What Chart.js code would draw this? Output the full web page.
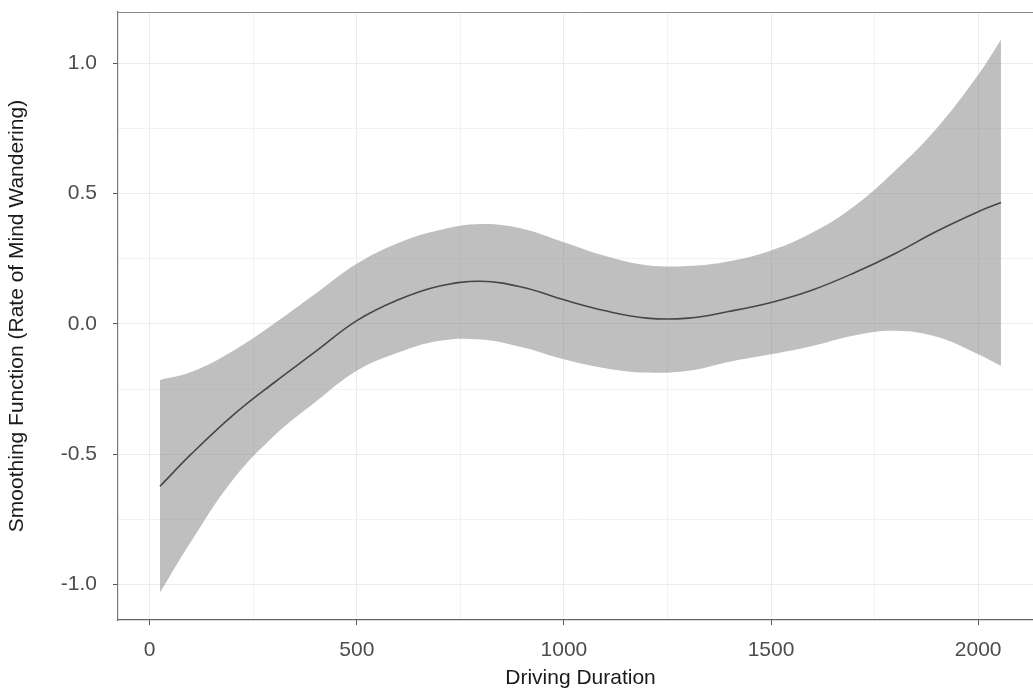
<!DOCTYPE html>
<html>
<head>
<meta charset="utf-8">
<script src="https://cdn.jsdelivr.net/npm/chart.js@4.4.1/dist/chart.umd.min.js"></script>
<style>
    html, body { margin: 0; padding: 0; background: #fff; overflow: hidden; }
    #wrap { width: 1043px; height: 700px; }
</style>
</head>
<body>
<div id="wrap"><canvas id="chart" width="1043" height="700"></canvas></div>
<script>
const durations = [25, 100, 200, 300, 400, 500, 600, 700, 800, 900, 1000, 1100, 1200, 1300, 1400, 1500, 1600, 1700, 1800, 1900, 2000, 2055];
// fitted smooth
const fit = [-0.623, -0.5, -0.352, -0.226, -0.107, 0.012, 0.092, 0.145, 0.163, 0.14, 0.092, 0.05, 0.022, 0.022, 0.048, 0.082, 0.13, 0.195, 0.27, 0.355, 0.43, 0.465];
// confidence band
const upper = [-0.215, -0.185, -0.105, 0.0, 0.115, 0.23, 0.31, 0.36, 0.383, 0.365, 0.313, 0.26, 0.225, 0.222, 0.24, 0.281, 0.35, 0.45, 0.588, 0.75, 0.955, 1.09];
const lower = [-1.03, -0.835, -0.6, -0.43, -0.3, -0.18, -0.11, -0.065, -0.06, -0.09, -0.136, -0.17, -0.187, -0.18, -0.145, -0.117, -0.085, -0.045, -0.027, -0.05, -0.117, -0.162];

// grid positions (major ones get a label)
const xGrid = [0, 250, 500, 750, 1000, 1250, 1500, 1750, 2000];
const yGrid = [-1.0, -0.75, -0.5, -0.25, 0.0, 0.25, 0.5, 0.75, 1.0];
const xMajor = [0, 500, 1000, 1500, 2000];
const yMajor = [-1.0, -0.5, 0.0, 0.5, 1.0];

const pts = function(arr) {
    return durations.map(function(d, i) { return { x: d, y: arr[i] }; });
};
const isMajor = function(list, v) {
    return list.some(function(m) { return Math.abs(m - v) < 1e-6; });
};

Chart.defaults.font.family = "'Liberation Sans', Arial, sans-serif";

const gridMajor = '#ebebeb';
const gridMinor = '#f2f2f2';

// top border of the panel
const panelTop = {
    id: 'panelTop',
    afterDraw(chart) {
        const a = chart.chartArea;
        const ctx = chart.ctx;
        ctx.save();
        ctx.strokeStyle = '#8c8c8c';
        ctx.lineWidth = 1;
        ctx.beginPath();
        ctx.moveTo(a.left, a.top + 0.5);
        ctx.lineTo(a.right, a.top + 0.5);
        ctx.stroke();
        ctx.restore();
    }
};

new Chart(document.getElementById('chart'), {
    type: 'line',
    data: {
        datasets: [
            { data: pts(lower), borderWidth: 0, pointRadius: 0, fill: false, tension: 0.4 },
            { data: pts(upper), borderWidth: 0, pointRadius: 0, fill: '-1', backgroundColor: 'rgba(128,128,128,0.5)', tension: 0.4 },
            { data: pts(fit), borderColor: '#0d0d0d', borderWidth: 1.6, pointRadius: 0, fill: false, tension: 0.4 },
        ],
    },
    options: {
        responsive: false,
        animation: false,
        layout: { padding: { top: 12, right: 0, left: 0, bottom: 0 } },
        plugins: { legend: { display: false }, tooltip: { enabled: false } },
        scales: {
            x: {
                type: 'linear',
                min: -76.5,
                max: 2156.5,
                afterBuildTicks: function(s) { s.ticks = xGrid.map(function(v) { return { value: v }; }); },
                afterFit: function(s) { s.height = 80; s.paddingLeft = 0; s.paddingRight = 0; },
                ticks: {
                    maxRotation: 0,
                    autoSkip: false,
                    padding: 13,
                    color: '#4d4d4d',
                    font: { size: 21 },
                    callback: function(v) { return isMajor(xMajor, v) ? String(v) : ''; },
                },
                grid: {
                    color: function(c) { return c.tick && isMajor(xMajor, c.tick.value) ? gridMajor : gridMinor; },
                    tickColor: function(c) { return c.tick && isMajor(xMajor, c.tick.value) ? '#555' : 'rgba(0,0,0,0)'; },
                    tickLength: 5,
                },
                border: { color: '#666', width: 1.2 },
                title: {
                    display: true,
                    text: 'Driving Duration',
                    color: '#1a1a1a',
                    font: { size: 21 },
                    padding: { top: 0, bottom: 9 },
                },
            },
            y: {
                min: -1.136,
                max: 1.196,
                afterBuildTicks: function(s) { s.ticks = yGrid.map(function(v) { return { value: v }; }); },
                afterFit: function(s) { s.width = 118; s.paddingTop = 0; s.paddingBottom = 0; },
                ticks: {
                    padding: 16,
                    color: '#4d4d4d',
                    font: { size: 21 },
                    callback: function(v) { return isMajor(yMajor, v) ? v.toFixed(1) : ''; },
                },
                grid: {
                    color: function(c) { return c.tick && isMajor(yMajor, c.tick.value) ? gridMajor : gridMinor; },
                    tickColor: function(c) { return c.tick && isMajor(yMajor, c.tick.value) ? '#555' : 'rgba(0,0,0,0)'; },
                    tickLength: 5,
                },
                border: { color: '#777', width: 1.2 },
                title: {
                    display: true,
                    text: 'Smoothing Function (Rate of Mind Wandering)',
                    color: '#1a1a1a',
                    font: { size: 21 },
                    padding: { top: 5, bottom: 0 },
                },
            },
        },
    },
    plugins: [panelTop],
});
</script>
</body>
</html>
